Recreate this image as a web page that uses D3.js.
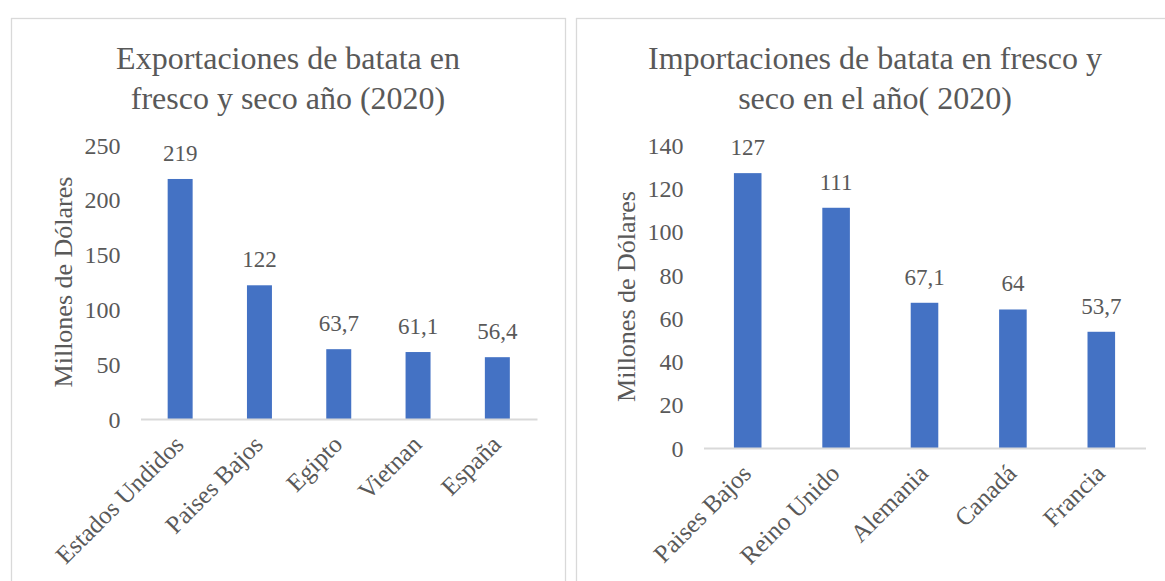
<!DOCTYPE html>
<html>
<head>
<meta charset="utf-8">
<script src="https://cdn.jsdelivr.net/npm/d3@7"></script>
<style>
  body { margin: 0; background: #fff; }
  text { font-family: "Liberation Serif", "Times New Roman", serif; fill: #595959; }
</style>
</head>
<body>
<div id="chart"></div>
<script>
// exportaciones (millones USD)
var expCountries = ['Estados Undidos', 'Paises Bajos', 'Egipto', 'Vietnan', 'España'];
var expValues = [219, 122, 63.7, 61.1, 56.4];
var expTicks = [0, 50, 100, 150, 200, 250];
var expTitle = ['Exportaciones de batata en', 'fresco y seco año (2020)'];

// importaciones (millones USD)
var impCountries = ['Paises Bajos', 'Reino Unido', 'Alemania', 'Canadá', 'Francia'];
var impValues = [127, 111, 67.1, 64, 53.7];
var impTicks = [0, 20, 40, 60, 80, 100, 120, 140];
var impTitle = ['Importaciones de batata en fresco y', 'seco en el año( 2020)'];

var yTitle = 'Millones de Dólares';

var svg = d3.select('#chart')
  .append('svg')
  .attr('width', 1165)
  .attr('height', 581);

// comma as decimal separator
var fmt = function(v) { return String(v).replace('.', ','); };

function drawChart(opt) {
  var g = svg.append('g');

  //chart frame
  g.append('rect')
    .attr('x', opt.frame[0] + 0.5)
    .attr('y', 18.5)
    .attr('width', opt.frame[1] - opt.frame[0])
    .attr('height', 600)
    .attr('fill', 'none')
    .attr('stroke', '#d9d9d9')
    .attr('stroke-width', 1.3);

  //title
  var cx = (opt.frame[0] + opt.frame[1]) / 2;
  g.append('text')
    .attr('x', cx)
    .attr('y', 69)
    .attr('text-anchor', 'middle')
    .style('font-size', '32px')
    .selectAll('tspan')
    .data(opt.title)
    .enter()
    .append('tspan')
    .attr('x', cx)
    .attr('dy', function(d, i) { return i ? 40 : 0; })
    .text(function(d) { return d; });

  var x = d3.scaleBand()
    .domain(opt.categories)
    .range([opt.left, opt.right])
    .paddingInner(opt.pad)
    .paddingOuter(opt.pad / 2);

  var y = d3.scaleLinear()
    .domain([0, d3.max(opt.ticks)])
    .range([opt.bottom, 145]);

  //y axis labels only
  var yAxis = g.append('g')
    .attr('transform', 'translate(' + opt.left + ',0)')
    .call(d3.axisLeft(y).tickValues(opt.ticks).tickSize(0).tickPadding(20));
  yAxis.select('.domain').remove();
  yAxis.selectAll('text')
    .attr('dy', '0.34em')
    .attr('fill', '#595959')
    .style('font-size', '24px')
    .style('font-family', '"Liberation Serif", "Times New Roman", serif');

  //y axis title
  g.append('text')
    .attr('transform', 'translate(' + opt.yTitleX + ',' + (y.range()[0] + y.range()[1]) / 2 + ') rotate(-90)')
    .attr('text-anchor', 'middle')
    .style('font-size', '26px')
    .text(yTitle);

  //bars
  g.selectAll('.bar')
    .data(opt.values)
    .enter()
    .append('rect')
    .attr('x', function(d, i) { return x(opt.categories[i]); })
    .attr('y', function(d) { return y(d); })
    .attr('width', x.bandwidth())
    .attr('height', function(d) { return y(0) - y(d); })
    .attr('fill', '#4472c4');

  //value labels
  g.selectAll('.val')
    .data(opt.values)
    .enter()
    .append('text')
    .attr('x', function(d, i) { return x(opt.categories[i]) + x.bandwidth() / 2; })
    .attr('y', function(d) { return y(d) - 18; })
    .attr('text-anchor', 'middle')
    .style('font-size', '23px')
    .text(function(d) { return fmt(d); });

  //x axis
  var xAxis = g.append('g')
    .attr('transform', 'translate(0,' + opt.bottom + ')')
    .call(d3.axisBottom(x).tickSize(0).tickPadding(0));
  xAxis.select('.domain')
    .attr('stroke', '#d9d9d9')
    .attr('stroke-width', 2);
  xAxis.selectAll('text')
    .attr('text-anchor', 'end')
    .attr('dy', 0)
    .attr('fill', '#595959')
    .attr('transform', 'translate(5,27) rotate(-45)')
    .style('font-size', '25px')
    .style('font-family', '"Liberation Serif", "Times New Roman", serif');
}

drawChart({
  frame: [11, 565], title: expTitle, categories: expCountries, values: expValues,
  ticks: expTicks, left: 140.5, right: 537, bottom: 419, pad: 0.685, yTitleX: 72
});

drawChart({
  frame: [576, 1174], title: impTitle, categories: impCountries, values: impValues,
  ticks: impTicks, left: 703.5, right: 1145.5, bottom: 448, pad: 0.688, yTitleX: 635
});
</script>
</body>
</html>
